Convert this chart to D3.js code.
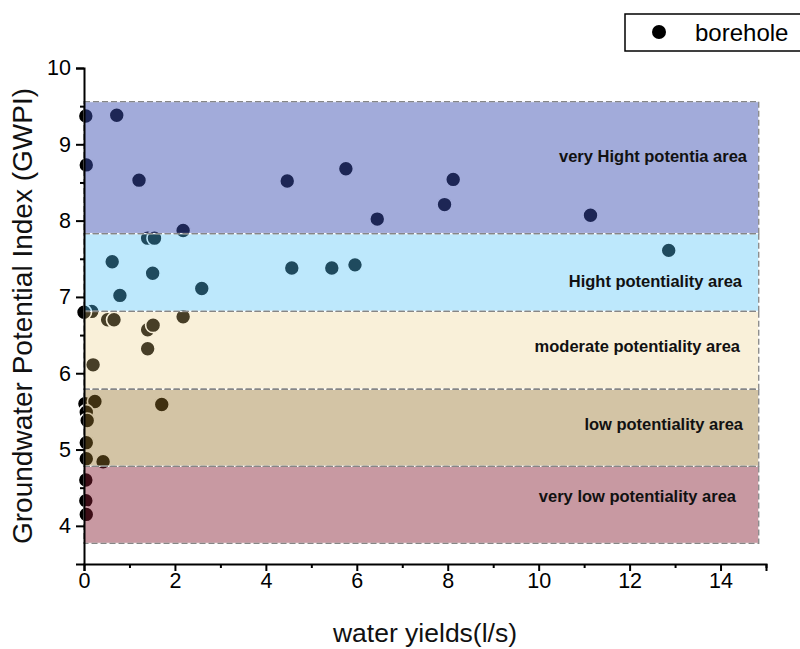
<!DOCTYPE html>
<html>
<head>
<meta charset="utf-8">
<script src="https://cdn.jsdelivr.net/npm/d3@7"></script>
<style>
  html, body { margin: 0; padding: 0; background: #fff; }
  svg { display: block; font-family: "Liberation Sans", Arial, sans-serif; }
</style>
</head>
<body>
<svg id="chart" width="800" height="649"></svg>
<script>
// ---- data ----
const xYield = [0.04, 0.72, 0.05, 1.21, 4.47, 5.76, 8.12, 7.93, 6.45, 11.14, 2.18,
                1.40, 1.55, 0.62, 1.51, 0.79, 2.59, 4.57, 5.45, 5.96, 12.86, 0.17, 0.00,
                0.52, 0.66, 1.40, 1.52, 2.18, 1.40, 0.20,
                1.71, 0.02, 0.24, 0.05, 0.07, 0.05, 0.05, 0.42,
                0.04, 0.04, 0.05];
const yGWPI = [9.37, 9.38, 8.73, 8.53, 8.52, 8.68, 8.54, 8.21, 8.02, 8.07, 7.87,
               7.77, 7.77, 7.46, 7.31, 7.02, 7.11, 7.38, 7.38, 7.42, 7.61, 6.81, 6.80,
               6.70, 6.70, 6.57, 6.63, 6.74, 6.32, 6.11,
               5.59, 5.60, 5.63, 5.49, 5.38, 5.09, 4.88, 4.84,
               4.60, 4.33, 4.15];

const bandLabels = ["very Hight potentia area", "Hight potentiality area", "moderate potentiality area",
                    "low potentiality area", "very low potentiality area"];
const bandTop    = [9.56, 7.83, 6.81, 5.79, 4.78];
const bandBottom = [7.83, 6.81, 5.79, 4.78, 3.77];
const bandLabelY = [8.85, 7.21, 6.36, 5.33, 4.39];
const bandRight  = 14.84;
const bandColors = ["rgb(60,79,177)", "rgb(82,195,247)", "rgb(235,205,130)", "rgb(150,115,40)", "rgb(133,29,49)"];
const bandAlpha  = [0.48, 0.38, 0.30, 0.42, 0.45];
const bandLabelEnd = [747, 742, 740, 743, 736];

const xMajor = [0, 2, 4, 6, 8, 10, 12, 14];
const xMinor = [1, 3, 5, 7, 9, 11, 13, 15];
const yMajor = [4, 5, 6, 7, 8, 9, 10];
const yMinor = [4.5, 5.5, 6.5, 7.5, 8.5, 9.5];

// ---- scales ----
const svg = d3.select("#chart");
const x = d3.scaleLinear().domain([0, 15]).range([84, 766]);
const y = d3.scaleLinear().domain([3.5, 10]).range([564, 68]);

// ---- points (drawn below the translucent bands) ----
const pts = d3.range(xYield.length).map(i => ({x: xYield[i], y: yGWPI[i]}));
svg.append("g").selectAll("circle").data(pts).join("circle")
  .attr("cx", d => x(d.x)).attr("cy", d => y(d.y)).attr("r", 7.5)
  .attr("fill", "#000").attr("stroke", "#fff").attr("stroke-width", 1.6);

// ---- bands ----
const bands = bandLabels.map((l, i) => ({label: l, top: bandTop[i], bot: bandBottom[i],
  color: bandColors[i], a: bandAlpha[i], end: bandLabelEnd[i], ly: bandLabelY[i]}));
const gb = svg.append("g");
gb.selectAll("rect.fill").data(bands).join("rect").attr("class", "fill")
  .attr("x", x(0)).attr("y", d => y(d.top))
  .attr("width", x(bandRight) - x(0)).attr("height", d => y(d.bot) - y(d.top))
  .attr("fill", d => d.color).attr("fill-opacity", d => d.a);
gb.selectAll("rect.under").data(bands).join("rect").attr("class", "under")
  .attr("x", x(0)).attr("y", d => y(d.top))
  .attr("width", x(bandRight) - x(0)).attr("height", d => y(d.bot) - y(d.top))
  .attr("fill", "none").attr("stroke", "#fff").attr("stroke-opacity", 0.7).attr("stroke-width", 1.3);
gb.selectAll("rect.edge").data(bands).join("rect").attr("class", "edge")
  .attr("x", x(0)).attr("y", d => y(d.top))
  .attr("width", x(bandRight) - x(0)).attr("height", d => y(d.bot) - y(d.top))
  .attr("fill", "none").attr("stroke", "#868686").attr("stroke-width", 1.3)
  .attr("stroke-dasharray", "6,3");

gb.selectAll("text").data(bands).join("text")
  .attr("x", d => d.end).attr("y", d => y(d.ly) + 6)
  .attr("text-anchor", "end").attr("font-weight", "bold").attr("font-size", 16.5)
  .attr("fill", "#111").text(d => d.label);

// ---- axes ----
const axFont = 21.5;
const gx = svg.append("g").attr("transform", `translate(0,${y(3.5)})`);
gx.call(d3.axisBottom(x).tickValues(xMajor).tickSize(7).tickPadding(2).tickFormat(d3.format("d")));
const gxm = svg.append("g").attr("transform", `translate(0,${y(3.5)})`);
gxm.call(d3.axisBottom(x).tickValues(xMinor).tickSize(4).tickFormat(""));
gxm.select(".domain").remove();

const gy = svg.append("g").attr("transform", `translate(${x(0)},0)`);
gy.call(d3.axisLeft(y).tickValues(yMajor).tickSize(8).tickPadding(5).tickFormat(d3.format("d")));
const gym = svg.append("g").attr("transform", `translate(${x(0)},0)`);
gym.call(d3.axisLeft(y).tickValues(yMinor).tickSize(4).tickFormat(""));
gym.select(".domain").remove();

svg.selectAll(".domain").attr("stroke", "#000").attr("stroke-width", 2);
svg.selectAll(".tick line").attr("stroke", "#000").attr("stroke-width", 2);
svg.selectAll(".tick text").attr("font-size", axFont).attr("fill", "#000")
  .attr("font-family", "Liberation Sans, Arial, sans-serif");

// ---- axis titles ----
svg.append("text").attr("x", (x(0) + x(15)) / 2).attr("y", 642)
  .attr("text-anchor", "middle").attr("font-size", 26.5).attr("fill", "#111")
  .text("water yields(l/s)");
svg.append("text")
  .attr("transform", `translate(32,${(y(3.5) + y(10)) / 2}) rotate(-90)`)
  .attr("text-anchor", "middle").attr("font-size", 28).attr("fill", "#111")
  .text("Groundwater Potential Index (GWPI)");

// ---- legend ----
const lg = svg.append("g");
lg.append("rect").attr("x", 625).attr("y", 14).attr("width", 200).attr("height", 37)
  .attr("fill", "#fff").attr("stroke", "#000").attr("stroke-width", 1.5);
lg.append("circle").attr("cx", 659).attr("cy", 32).attr("r", 7).attr("fill", "#000");
lg.append("text").attr("x", 695).attr("y", 41).attr("font-size", 24).attr("fill", "#000").text("borehole");
</script>
</body>
</html>
